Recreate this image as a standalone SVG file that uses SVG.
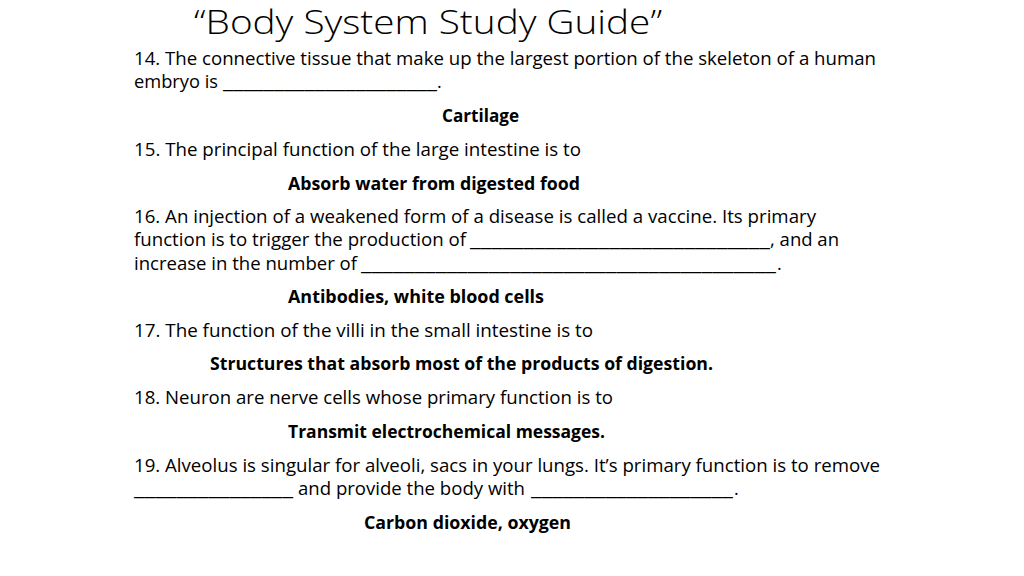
<svg xmlns="http://www.w3.org/2000/svg" width="1024" height="576" viewBox="0 0 1024 576">
<style>
text{font-family:"Open Sans","Liberation Sans",sans-serif;fill:#000;}
.t{font-size:33px;font-weight:300;}
.b{font-size:18px;}
.a{font-size:18px;font-weight:bold;}
</style>
<rect width="1024" height="576" fill="#fff"/>
<g id="title"><text class="t" x="194" y="34" textLength="468" lengthAdjust="spacingAndGlyphs">“Body System Study Guide”</text></g>
<g id="q14">
<text class="b" x="134" y="65" textLength="742" lengthAdjust="spacingAndGlyphs">14. The connective tissue that make up the largest portion of the skeleton of a human</text>
<text class="b" x="134" y="88" textLength="84" lengthAdjust="spacingAndGlyphs">embryo is</text>
<text class="b" x="223" y="88" textLength="214" lengthAdjust="spacingAndGlyphs">_____________________</text>
<text class="b" x="437" y="88">.</text>
<text class="a" x="442" y="122" textLength="77" lengthAdjust="spacingAndGlyphs">Cartilage</text>
</g>
<g id="q15">
<text class="b" x="134" y="156" textLength="447" lengthAdjust="spacingAndGlyphs">15. The principal function of the large intestine is to</text>
<text class="a" x="288" y="190" textLength="292" lengthAdjust="spacingAndGlyphs">Absorb water from digested food</text>
</g>
<g id="q16">
<text class="b" x="134" y="223" textLength="682" lengthAdjust="spacingAndGlyphs">16. An injection of a weakened form of a disease is called a vaccine. Its primary</text>
<text class="b" x="134" y="246" textLength="332" lengthAdjust="spacingAndGlyphs">function is to trigger the production of</text>
<text class="b" x="470" y="246" textLength="300" lengthAdjust="spacingAndGlyphs">____________________________</text>
<text class="b" x="770" y="246" textLength="69" lengthAdjust="spacingAndGlyphs">, and an</text>
<text class="b" x="134" y="270" textLength="223" lengthAdjust="spacingAndGlyphs">increase in the number of</text>
<text class="b" x="361" y="270" textLength="415" lengthAdjust="spacingAndGlyphs">_______________________________________</text>
<text class="b" x="777" y="270">.</text>
<text class="a" x="288" y="303" textLength="256" lengthAdjust="spacingAndGlyphs">Antibodies, white blood cells</text>
</g>
<g id="q17">
<text class="b" x="134" y="337" textLength="459" lengthAdjust="spacingAndGlyphs">17. The function of the villi in the small intestine is to</text>
<text class="a" x="210" y="370" textLength="503" lengthAdjust="spacingAndGlyphs">Structures that absorb most of the products of digestion.</text>
</g>
<g id="q18">
<text class="b" x="134" y="404" textLength="479" lengthAdjust="spacingAndGlyphs">18. Neuron are nerve cells whose primary function is to</text>
<text class="a" x="288" y="438" textLength="317" lengthAdjust="spacingAndGlyphs">Transmit electrochemical messages.</text>
</g>
<g id="q19">
<text class="b" x="134" y="472" textLength="746" lengthAdjust="spacingAndGlyphs">19. Alveolus is singular for alveoli, sacs in your lungs. It’s primary function is to remove</text>
<text class="b" x="134" y="495" textLength="159" lengthAdjust="spacingAndGlyphs">_______________</text>
<text class="b" x="298" y="495" textLength="227" lengthAdjust="spacingAndGlyphs">and provide the body with</text>
<text class="b" x="531" y="495" textLength="202" lengthAdjust="spacingAndGlyphs">___________________</text>
<text class="b" x="734" y="495">.</text>
<text class="a" x="364" y="529" textLength="207" lengthAdjust="spacingAndGlyphs">Carbon dioxide, oxygen</text>
</g>
</svg>
